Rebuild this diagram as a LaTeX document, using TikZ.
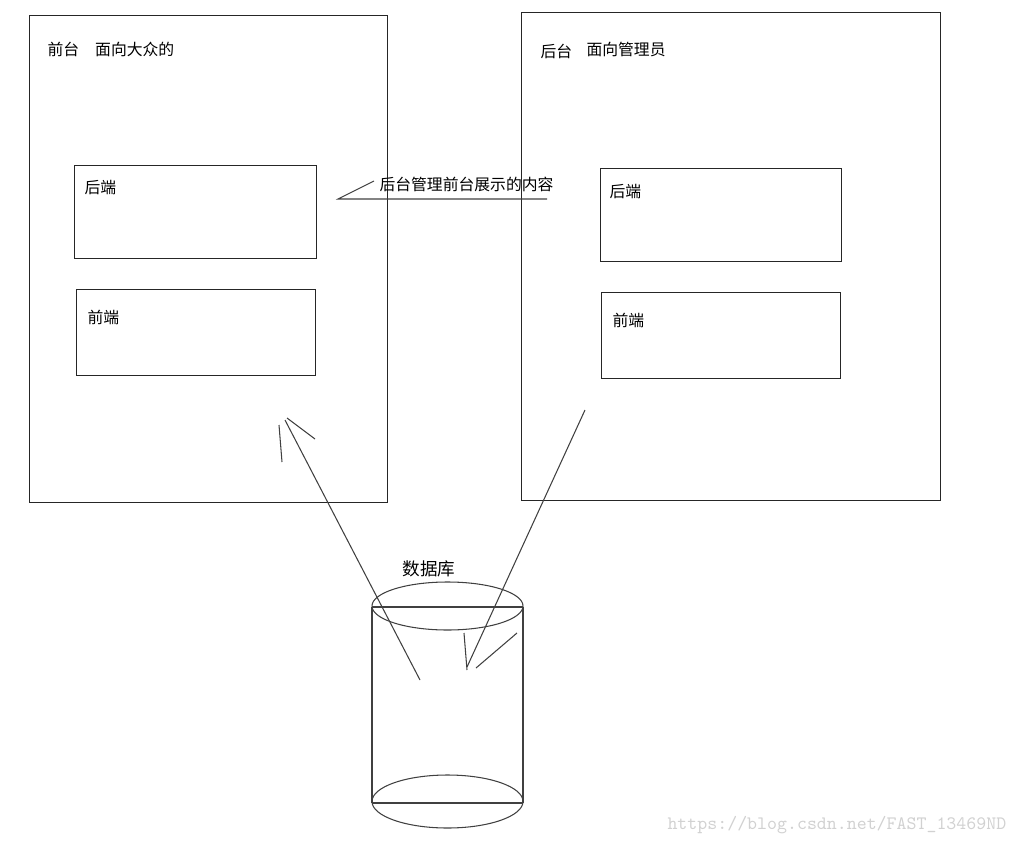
\documentclass[tikz,border=0pt]{standalone}
\usepackage{fontspec}
\newfontfamily\cjk{Noto Sans CJK SC}
\usepackage{tikz}
\usetikzlibrary{positioning}

\begin{document}
\begin{tikzpicture}[
    x=0.02cm, y=-0.02cm,
    line width=0.6pt,
    panel/.style={rectangle, draw=black!85, anchor=north west, inner sep=0pt},
    tag/.style={anchor=west, inner sep=0pt, font=\cjk\fontsize{9}{11}\selectfont},
    stroke/.style={draw=black!75, line width=0.6pt}
]
    \useasboundingbox (0,0) rectangle (1018,845);

    % two big panels
    \node[panel, minimum width=7.16cm, minimum height=9.74cm] (front) at (29,15) {};
    \node[panel, minimum width=8.38cm, minimum height=9.76cm] (back) at (521,12) {};

    \node[tag] (frontname) at (47,49) {前台};
    \node[tag, right=0.3cm of frontname] (frontdesc) {面向大众的};
    \node[tag] (backname) at (540,51) {后台};
    \node[tag] (backdesc) at (586,49) {面向管理员};

    % inner boxes
    \node[panel, minimum width=4.84cm, minimum height=1.86cm] (frontbe) at (74,165) {};
    \node[panel, minimum width=4.78cm, minimum height=1.72cm] (frontfe) at (76,289) {};
    \node[panel, minimum width=4.82cm, minimum height=1.86cm] (backbe) at (600,168) {};
    \node[panel, minimum width=4.78cm, minimum height=1.72cm] (backfe) at (601,292) {};

    \node[tag] (frontbelabel) at (84,188) {后端};
    \node[tag] (frontfelabel) at (87,317) {前端};
    \node[tag] (backbelabel) at (609,192) {后端};
    \node[tag] (backfelabel) at (612,320) {前端};

    % callout
    \node[tag] (note) at (379,184) {后台管理前台展示的内容};
    \coordinate (notefoot) at (338,199);
    \coordinate (notetip) at (374,181);
    \coordinate (noteend) at (547,199);
    \draw[stroke] (notetip) -- (notefoot) -- (noteend);

    % database
    \node[tag, font=\cjk\fontsize{10}{12}\selectfont] (dbname) at (402,569) {数据库};
    \coordinate (dbtopl) at (372,607);
    \coordinate (dbtopr) at (523,607);
    \coordinate (dbbotl) at (372,803);
    \coordinate (dbbotr) at (523,803);
    \draw[stroke] (447.5,606) ellipse [x radius=75.5, y radius=24];
    \draw[stroke] (447.5,801.5) ellipse [x radius=75.5, y radius=26.5];
    \draw[stroke] (dbtopl) -- (dbtopr);
    \draw[stroke] (dbbotl) -- (dbbotr);
    \draw[stroke] (dbtopl) -- (dbbotl);
    \draw[stroke] (dbtopr) -- (dbbotr);

    % freehand arrows
    \coordinate (upfrom) at (420,680);
    \coordinate (upto) at (285,420);
    \draw[stroke] (upfrom) -- (upto);
    \draw[stroke] (279,425) -- (282,462);
    \draw[stroke] (287,418) -- (315,439);

    \coordinate (downfrom) at (585,410);
    \coordinate (downto) at (467,667);
    \draw[stroke] (downfrom) -- (downto);
    \draw[stroke] (464,633) -- (467,670);
    \draw[stroke] (476,668) -- (517,633);

    % watermark
    \node[anchor=west, inner sep=0pt, text=black!18,
          font=\ttfamily\fontsize{10.8}{12}\selectfont] (mark) at (667,825) {https://blog.csdn.net/FAST\_13469ND};
\end{tikzpicture}
\end{document}
